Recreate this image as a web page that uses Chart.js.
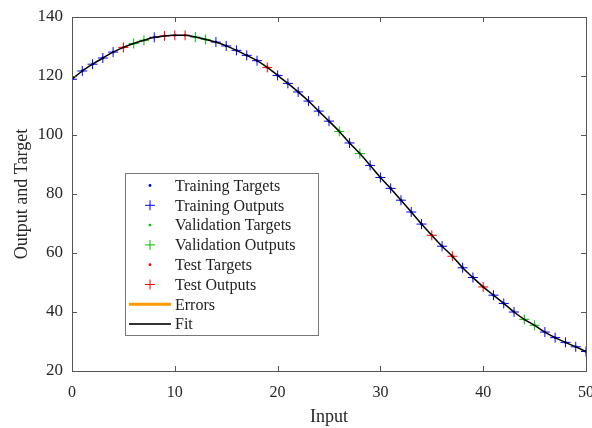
<!DOCTYPE html>
<html>
<head>
<meta charset="utf-8">
<script src="https://cdn.jsdelivr.net/npm/chart.js@4.4.1/dist/chart.umd.min.js"></script>
<style>
  html, body { margin:0; padding:0; background:#fff; }
  #wrap { width:592px; height:428px; }
</style>
</head>
<body>
<div id="wrap"><canvas id="fitChart" width="592" height="428"></canvas></div>
<script>
// data
const inputs = [0,1,2,3,4,5,6,7,8,9,10,11,12,13,14,15,16,17,18,19,20,21,22,23,24,25,
  26,27,28,29,30,31,32,33,34,35,36,37,38,39,40,41,42,43,44,45,46,47,48,49,50];
const outputs = [118.9,121.7,124.0,126.1,128.1,129.7,131.0,132.1,133.1,133.6,
  133.8,133.8,133.2,132.4,131.5,130.2,128.7,127.0,125.2,122.9,
  120.2,117.5,114.6,111.5,108.1,104.7,101.2,97.3,93.7,89.7,
  85.6,81.9,77.9,73.9,69.8,66.0,62.3,58.9,55.0,51.7,
  48.5,45.7,42.9,40.0,37.5,35.5,33.2,31.3,29.7,28.2,26.6];
const targets = outputs; // targets sit on the outputs in the picture
const trainIdx = [0,1,2,3,4,8,14,15,16,17,18,20,21,22,23,24,25,27,29,30,31,32,33,34,36,38,39,41,42,43,46,47,48,49,50];
const valIdx = [6,7,12,13,26,28,44,45];
const testIdx = [5,9,10,11,19,35,37,40];
const xTicks = [0,10,20,30,40,50];
const yTicks = [20,40,60,80,100,120,140];

const BLUE = '#0000ff', GREEN = '#00c000', RED = '#ff0000', ORANGE = '#ff9900';
const serif = '"Liberation Serif", "Times New Roman", serif';
const axisCol = '#555555';

function pts(idx, arr){
  return idx.map(i => ({x: inputs[i], y: arr[i]}));
}

function dots(label, idx, color){
  return { label, data: pts(idx, targets), showLine:false, pointStyle:'circle',
    pointRadius:1.4, backgroundColor:color, borderColor:color, borderWidth:0, order:2 };
}
function crosses(label, idx, color){
  return { label, data: pts(idx, outputs), showLine:false, pointStyle:'cross',
    pointRadius:5, borderColor:color, backgroundColor:color, borderWidth:1, order:1 };
}

// legend items (drawn by the plugin below)
const legendItems = [
  {text:'Training Targets', kind:'dot', color:BLUE},
  {text:'Training Outputs', kind:'cross', color:BLUE},
  {text:'Validation Targets', kind:'dot', color:GREEN},
  {text:'Validation Outputs', kind:'cross', color:GREEN},
  {text:'Test Targets', kind:'dot', color:RED},
  {text:'Test Outputs', kind:'cross', color:RED},
  {text:'Errors', kind:'line', color:ORANGE, width:3},
  {text:'Fit', kind:'line', color:'#333333', width:2}
];

// box round the plot + inward ticks, MATLAB style
const boxPlugin = {
  id:'box',
  afterDatasetsDraw(chart){
    const {ctx, chartArea:{left,right,top,bottom}, scales:{x,y}} = chart;
    ctx.save();
    ctx.strokeStyle = axisCol;
    ctx.lineWidth = 1;
    ctx.beginPath();
    xTicks.forEach(v => {
      const px = Math.round(x.getPixelForValue(v)) + 0.5;
      ctx.moveTo(px, bottom); ctx.lineTo(px, bottom - 5);
      ctx.moveTo(px, top); ctx.lineTo(px, top + 5);
    });
    yTicks.forEach(v => {
      const py = Math.round(y.getPixelForValue(v)) + 0.5;
      ctx.moveTo(left, py); ctx.lineTo(left + 5, py);
      ctx.moveTo(right, py); ctx.lineTo(right - 5, py);
    });
    ctx.stroke();
    ctx.strokeRect(Math.round(left)+0.5, Math.round(top)+0.5, Math.round(right-left), Math.round(bottom-top));
    ctx.restore();
  }
};

const legendPlugin = {
  id:'boxLegend',
  afterDraw(chart){
    const ctx = chart.ctx;
    const bx = 125, by = 173, bw = 193, bh = 162;
    const rowH = 19.8, firstRow = 185.5;
    ctx.save();
    ctx.fillStyle = '#fff';
    ctx.fillRect(bx, by, bw, bh);
    ctx.strokeStyle = '#777';
    ctx.lineWidth = 1;
    ctx.strokeRect(bx + 0.5, by + 0.5, bw, bh);
    ctx.font = '16px ' + serif;
    ctx.textBaseline = 'middle';
    legendItems.forEach((it, i) => {
      const cy = firstRow + i * rowH;
      const mx = 150;
      ctx.strokeStyle = it.color;
      ctx.fillStyle = it.color;
      if(it.kind === 'dot'){
        ctx.beginPath(); ctx.arc(mx, cy, 1.4, 0, Math.PI*2); ctx.fill();
      } else if(it.kind === 'cross'){
        ctx.lineWidth = 1;
        ctx.beginPath();
        ctx.moveTo(mx - 5, cy); ctx.lineTo(mx + 5, cy);
        ctx.moveTo(mx, cy - 5); ctx.lineTo(mx, cy + 5);
        ctx.stroke();
      } else {
        ctx.lineWidth = it.width;
        ctx.beginPath(); ctx.moveTo(129, cy); ctx.lineTo(171, cy); ctx.stroke();
      }
      ctx.fillStyle = '#222';
      ctx.fillText(it.text, 175, cy + 1);
    });
    ctx.restore();
  }
};

const ctx = document.getElementById('fitChart').getContext('2d');
new Chart(ctx, {
  type:'scatter',
  data:{
    datasets:[
      {label:'Fit', type:'line', data: pts(inputs.map((_, i) => i), outputs), borderColor:'#000',
        borderWidth:1.5, pointRadius:0, fill:false, cubicInterpolationMode:'monotone', order:0},
      dots('Training Targets', trainIdx, BLUE),
      crosses('Training Outputs', trainIdx, BLUE),
      dots('Validation Targets', valIdx, GREEN),
      crosses('Validation Outputs', valIdx, GREEN),
      dots('Test Targets', testIdx, RED),
      crosses('Test Outputs', testIdx, RED),
      {label:'Errors', type:'line', data:[], borderColor:ORANGE, borderWidth:3, pointRadius:0}
    ]
  },
  options:{
    responsive:false,
    animation:false,
    layout:{ padding:{top:17, right:5, left:0, bottom:0} },
    plugins:{ legend:{display:false}, tooltip:{enabled:false} },
    scales:{
      x:{
        type:'linear', min:0, max:50,
        afterBuildTicks: s => { s.ticks = xTicks.map(v => ({value:v})); },
        afterFit: s => { s.height = 57; s.paddingLeft = 0; s.paddingRight = 0; },
        grid:{display:false, drawTicks:false},
        border:{display:false},
        ticks:{ padding:12, color:'#262626', font:{family:serif, size:16}, maxRotation:0 },
        title:{ display:true, text:'Input', color:'#262626', font:{family:serif, size:18}, padding:{top:0, bottom:0} }
      },
      y:{
        min:20, max:140,
        afterBuildTicks: s => { s.ticks = yTicks.map(v => ({value:v})); },
        afterFit: s => { s.width = 72; s.paddingTop = 0; s.paddingBottom = 0; },
        grid:{display:false, drawTicks:false},
        border:{display:false},
        ticks:{ padding:9, color:'#262626', font:{family:serif, size:17} },
        title:{ display:true, text:'Output and Target', color:'#262626', font:{family:serif, size:18}, padding:{top:11, bottom:0} }
      }
    }
  },
  plugins:[boxPlugin, legendPlugin]
});
</script>
</body>
</html>
